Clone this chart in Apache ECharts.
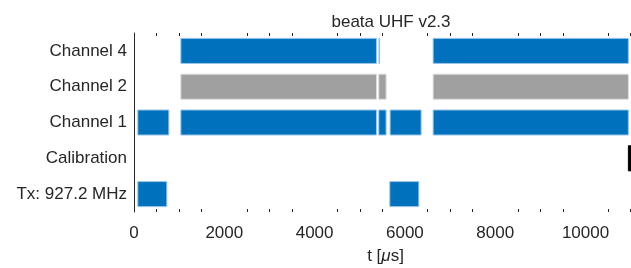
<!DOCTYPE html>
<html>
<head>
<meta charset="utf-8">
<script src="https://cdn.jsdelivr.net/npm/echarts@6/dist/echarts.min.js"></script>
<style>html,body{margin:0;padding:0;background:#fff}#main{width:631px;height:268px}</style>
</head>
<body>
<div id="main"></div>
<script>
// rows bottom -> top
const rows = ['Tx: 927.2 MHz', 'Calibration', 'Channel 1', 'Channel 2', 'Channel 4'];
// segments per row: [start, end] in µs
const txSegs = [[84, 727], [5665, 6308]];
const calSegs = [[10949, 11300]];
const ch1Segs = [[84, 772], [1038, 5370], [5421, 5583], [5672, 6359], [6625, 10949]];
const ch2Segs = [[1038, 5370], [5421, 5583], [6625, 10949]];
const ch4Segs = [[1038, 5370], [5425, 5440], [6625, 10949]];
const xTicks = [0, 2000, 4000, 6000, 8000, 10000];

const BLUE = '#0072BD', GRAY = '#A0A0A0', BLACK = '#000000';
const groups = [
  [0, txSegs, BLUE], [1, calSegs, BLACK], [2, ch1Segs, BLUE],
  [3, ch2Segs, GRAY], [4, ch4Segs, BLUE],
];
const data = [];
groups.forEach(([row, segs, color]) => segs.forEach(s => data.push({ value: [s[0], s[1], row], color })));

const edge = { '#0072BD': '#9cc6ea', '#A0A0A0': '#dcdcdc', '#000000': '#000000' };
const ink = '#262626';
const font = 'Liberation Sans, Arial, sans-serif';

const chart = echarts.init(document.getElementById('main'), null, { renderer: 'canvas' });
chart.setOption({
  animation: false,
  title: {
    text: 'beata UHF v2.3', left: 386, top: 9, textAlign: 'center',
    textStyle: { fontFamily: font, fontSize: 17, fontWeight: 'normal', color: ink },
  },
  grid: { left: 134, width: 503, top: 33, bottom: 56, outerBoundsMode: 'none', containLabel: false },
  xAxis: [{
    type: 'value', min: 0, max: 11140, interval: 2000, position: 'bottom',
    axisLine: { lineStyle: { color: ink, width: 1 } },
    axisTick: { inside: true, length: 5, lineStyle: { color: ink } },
    minorTick: { show: true, splitNumber: 4, length: 3, lineStyle: { color: ink } },
    splitLine: { show: false },
    axisLabel: { fontFamily: font, fontSize: 17, color: ink, margin: 13,
      showMaxLabel: false, formatter: v => xTicks.includes(v) ? String(v) : '' },
    name: 't [{i|μ}s]', nameLocation: 'middle', nameGap: 36,
    nameTextStyle: { fontFamily: font, fontSize: 17, color: ink,
      rich: { i: { fontFamily: font, fontSize: 17, fontStyle: 'italic', color: ink } } },
  }, {
    type: 'value', min: 0, max: 11140, interval: 2000, position: 'top',
    axisLine: { lineStyle: { color: ink, width: 1 } },
    axisTick: { inside: true, length: 5, lineStyle: { color: ink } },
    minorTick: { show: true, splitNumber: 4, length: 3, lineStyle: { color: ink } },
    splitLine: { show: false }, axisLabel: { show: false },
  }],
  yAxis: {
    type: 'category', data: rows, boundaryGap: true,
    axisLine: { lineStyle: { color: ink, width: 1 } },
    axisTick: { inside: true, length: 5, alignWithLabel: true, lineStyle: { color: ink } },
    axisLabel: { fontFamily: font, fontSize: 17, color: ink, margin: 7 },
    splitLine: { show: false },
  },
  series: [{
    type: 'custom', clip: true,
    encode: { x: [0, 1], y: 2 },
    data,
    renderItem(params, api) {
      const row = api.value(2);
      const a = api.coord([api.value(0), row]);
      const b = api.coord([api.value(1), row]);
      const h = api.size([0, 1])[1] * 0.7;
      const color = data[params.dataIndex].color;
      const shape = echarts.graphic.clipRectByRect(
        { x: a[0], y: a[1] - h / 2, width: b[0] - a[0], height: h },
        { x: params.coordSys.x, y: params.coordSys.y, width: params.coordSys.width, height: params.coordSys.height });
      return shape && {
        type: 'rect', shape,
        style: { fill: color, stroke: edge[color], lineWidth: 1 },
      };
    },
  }],
});
</script>
</body>
</html>
